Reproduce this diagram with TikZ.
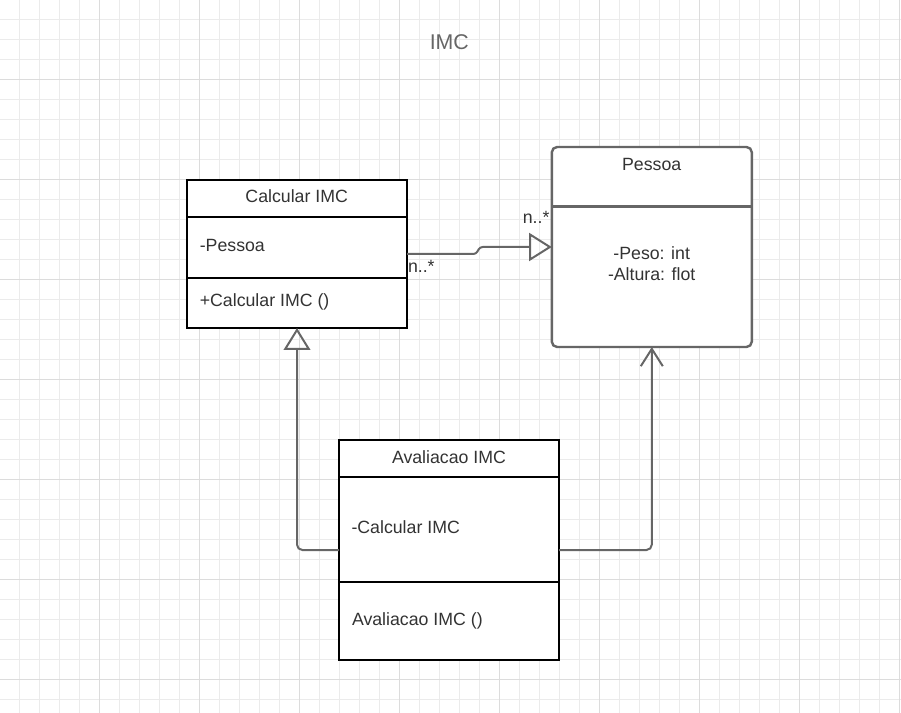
\documentclass[tikz,border=0pt]{standalone}
\usepackage{fontspec}
\setmainfont{Liberation Sans}
\usetikzlibrary{arrows.meta}

\definecolor{gridminor}{HTML}{EBEBEB}
\definecolor{gridmajor}{HTML}{DCDCDC}
\definecolor{umltext}{HTML}{333333}
\definecolor{umlgray}{HTML}{666666}

\tikzset{every picture/.style={line width=0.75pt}}
\tikzset{
  classbox/.style={draw=black, line width=1.3pt, inner sep=0pt, outer sep=0pt, fill=white},
  roundbox/.style={draw=umlgray, line width=1.8pt, rounded corners=4pt, inner sep=0pt, outer sep=0pt, fill=white},
  umllabel/.style={inner sep=0pt, text=umltext, font=\fontsize{13.3pt}{16pt}\selectfont},
  conn/.style={draw=umlgray, line width=1.5pt},
}

\begin{document}
\begin{tikzpicture}[x=0.75pt,y=0.75pt,yscale=-1,xscale=1]
\useasboundingbox (0,0) rectangle (901,713);

%Shape: Grid
\foreach \gx in {19.5,39.5,...,900} \draw[gridminor, line width=0.9pt] (\gx,0) -- (\gx,713);
\foreach \gy in {19.5,39.5,...,713} \draw[gridminor, line width=0.9pt] (0,\gy) -- (901,\gy);
\foreach \gx in {99.5,199.5,...,900} \draw[gridmajor, line width=0.9pt] (\gx,0) -- (\gx,713);
\foreach \gy in {79.5,179.5,...,713} \draw[gridmajor, line width=0.9pt] (0,\gy) -- (901,\gy);

% Title
\node (title) [inner sep=0pt, anchor=base, text=umlgray, font=\fontsize{16pt}{19pt}\selectfont] at (449.3,49.3) {IMC};

%Shape: Class Calcular IMC
\node (calc) [classbox, minimum width=165pt, minimum height=111pt] at (297,254) {};
\draw [line width=1.3pt] (calc.west |- 0,216.8) -- (calc.east |- 0,216.8);
\draw [line width=1.3pt] (calc.west |- 0,277.8) -- (calc.east |- 0,277.8);

%Shape: Class Pessoa
\node (pessoa) [roundbox, minimum width=150pt, minimum height=150pt] at (651.8,247) {};
\draw [draw=umlgray, line width=1.8pt] (pessoa.west |- 0,206.7) -- (pessoa.east |- 0,206.7);

%Shape: Class Avaliacao IMC
\node (aval) [classbox, minimum width=165pt, minimum height=165pt] at (449,550) {};
\draw [line width=1.3pt] (aval.west |- 0,477.3) -- (aval.east |- 0,477.3);
\draw [line width=1.3pt] (aval.west |- 0,581.7) -- (aval.east |- 0,581.7);

% Connectors
\coordinate (jog) at (480,247);
\draw [conn, rounded corners=2pt, -{Triangle[open, length=17pt, width=21pt]}] (calc.east) -- ++(69,0) -- (jog) -- (pessoa.west);
\draw [conn, rounded corners=4pt, -{Triangle[open, length=16.5pt, width=20pt]}] (aval.west) -| (calc.south);
\draw [conn, rounded corners=4pt, -{Straight Barb[length=13pt, width=16.5pt]}] (aval.east) -| (pessoa.south);

% Text Node
\node (calcname) [umllabel, anchor=base] at (296.7,202.7) {Calcular IMC};
% Text Node
\node (calcattr) [umllabel, anchor=base west] at (199.3,251.7) {-Pessoa};
% Text Node
\node (calcop) [umllabel, anchor=base west] at (199.3,306.7) {+Calcular IMC ()};
% Text Node
\node (pessoaname) [umllabel, anchor=base] at (651.7,170.7) {Pessoa};
% Text Node
\node (pessoapeso) [umllabel, anchor=base] at (651.7,259.3) {-Peso: int};
% Text Node
\node (pessoaalt) [umllabel, anchor=base] at (651.7,280.7) {-Altura: flot};
% Text Node
\node (avalname) [umllabel, anchor=base] at (449,463.3) {Avaliacao IMC};
% Text Node
\node (avalattr) [umllabel, anchor=base west] at (351,533.3) {-Calcular IMC};
% Text Node
\node (avalop) [umllabel, anchor=base west] at (351.5,625) {Avaliacao IMC ()};
% Text Node
\node (multcalc) [umllabel, anchor=base west] at (407.5,273) {n..*};
% Text Node
\node (multpessoa) [umllabel, anchor=base east] at (550,223.3) {n..*};

\end{tikzpicture}
\end{document}
